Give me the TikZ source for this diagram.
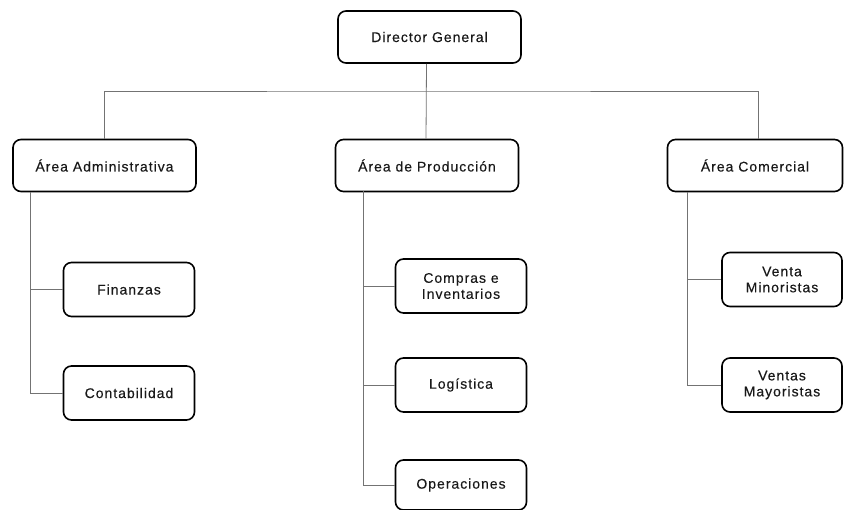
\documentclass[tikz,border=0pt]{standalone}
\usepackage{fontspec}
\setmainfont{Liberation Sans}[LetterSpace=7, FakeBold=0.3]
\usepackage{tikz}
\usetikzlibrary{positioning}

\begin{document}
\begin{tikzpicture}[
    x=1pt, y=-1pt,
    box/.style={rectangle, draw=black, line width=1.6pt, rounded corners=8pt, align=center, text=black!90, font=\fontsize{14}{16}\selectfont},
    head/.style={box, minimum width=183pt, minimum height=52pt},
    unit/.style={box, minimum width=131pt, minimum height=54pt},
    link/.style={draw=black!55, line width=0.8pt}
]
\useasboundingbox (0,0) rectangle (845,510);

% Director (top)
\node[head] (dg) at (429.5, 37) {Director General};

% Areas
\node[head] (adm) at (104.5, 165.5) {Área Administrativa};
\node[head] (prod) at (427, 165.5) {Área de Producción};
\node[head, minimum width=175pt] (com) at (755, 165.5) {Área Comercial};

% Administrativa
\node[unit] (fin) at (129, 289.5) {Finanzas};
\node[unit] (cont) at (129, 393) {Contabilidad};

% Produccion
\node[unit] (comp) at (461, 286) {Compras e\\Inventarios};
\node[unit] (log) at (461, 385) {Logística};
\node[unit, minimum height=50pt] (ope) at (461, 485) {Operaciones};

% Comercial
\node[unit, minimum width=120pt] (vmin) at (782, 279.5) {Venta\\Minoristas};
\node[unit, minimum width=120pt] (vmay) at (782, 385) {Ventas\\Mayoristas};

% Director to areas
\coordinate (bus) at (426, 91);
\draw[link] ([xshift=-3pt]dg.south) -- ([xshift=-1pt]prod.north);
\draw[link] (adm.north) |- (bus) -| ([xshift=3pt]com.north);

% Areas to units
\coordinate (admroot) at (30, 192);
\coordinate (prodroot) at (363, 191);
\coordinate (comroot) at (687, 192);

\draw[link] (admroot) |- (cont.west);
\draw[link] (admroot |- fin.west) -- (fin.west);

\draw[link] (prodroot) |- (ope.west);
\draw[link] (prodroot |- comp.west) -- (comp.west);
\draw[link] (prodroot |- log.west) -- (log.west);

\draw[link] (comroot) |- (vmay.west);
\draw[link] (comroot |- vmin.west) -- (vmin.west);

\end{tikzpicture}
\end{document}
